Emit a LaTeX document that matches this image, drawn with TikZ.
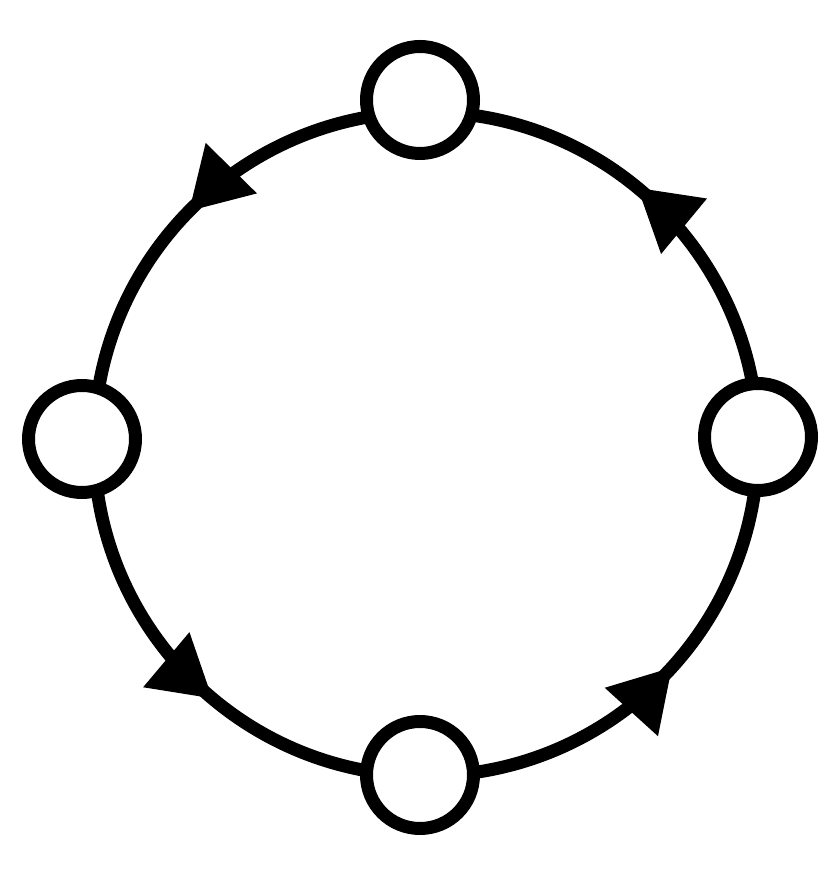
\documentclass[tikz,border=0pt]{standalone}
\usepackage{tikz}
\usetikzlibrary{arrows.meta,decorations.markings,backgrounds,calc}

\begin{document}
\begin{tikzpicture}[x=1pt,y=1pt]

\def \ring{332}
\def \heavy{13pt}
\def \vsize{107pt}

\tikzset{
  vertex/.style={circle,draw,fill=white,line width=\heavy,minimum size=\vsize,inner sep=0pt,outer sep=0pt},
  flow/.style={line width=\heavy,postaction={decorate},
    decoration={markings,mark=at position #1 with {\arrow{Triangle[length=60pt,width=72pt,line width=0pt]}}}}
}

\path[use as bounding box] (0,0) rectangle (840,879);

% vertices
\node[vertex] (top) at (420,779) {};
\node[vertex] (left) at (82,440) {};
\node[vertex] (bottom) at (420,104) {};
\node[vertex] (right) at (758,442) {};

% points of the ring under each vertex
\coordinate (o) at (426,435);
\coordinate (pr) at ($(o)+(0:\ring)$);
\coordinate (pt) at ($(o)+(90:\ring)$);
\coordinate (pl) at ($(o)+(180:\ring)$);
\coordinate (pb) at ($(o)+(270:\ring)$);

\begin{scope}[on background layer]
\foreach \from/\to/\o/\i/\p in {pr/pt/90/0/0.56, pt/pl/180/90/0.505, pl/pb/270/180/0.555, pb/pr/0/270/0.53}
  \draw[flow=\p] (\from) to[out=\o,in=\i] (\to);
\end{scope}

\end{tikzpicture}
\end{document}
